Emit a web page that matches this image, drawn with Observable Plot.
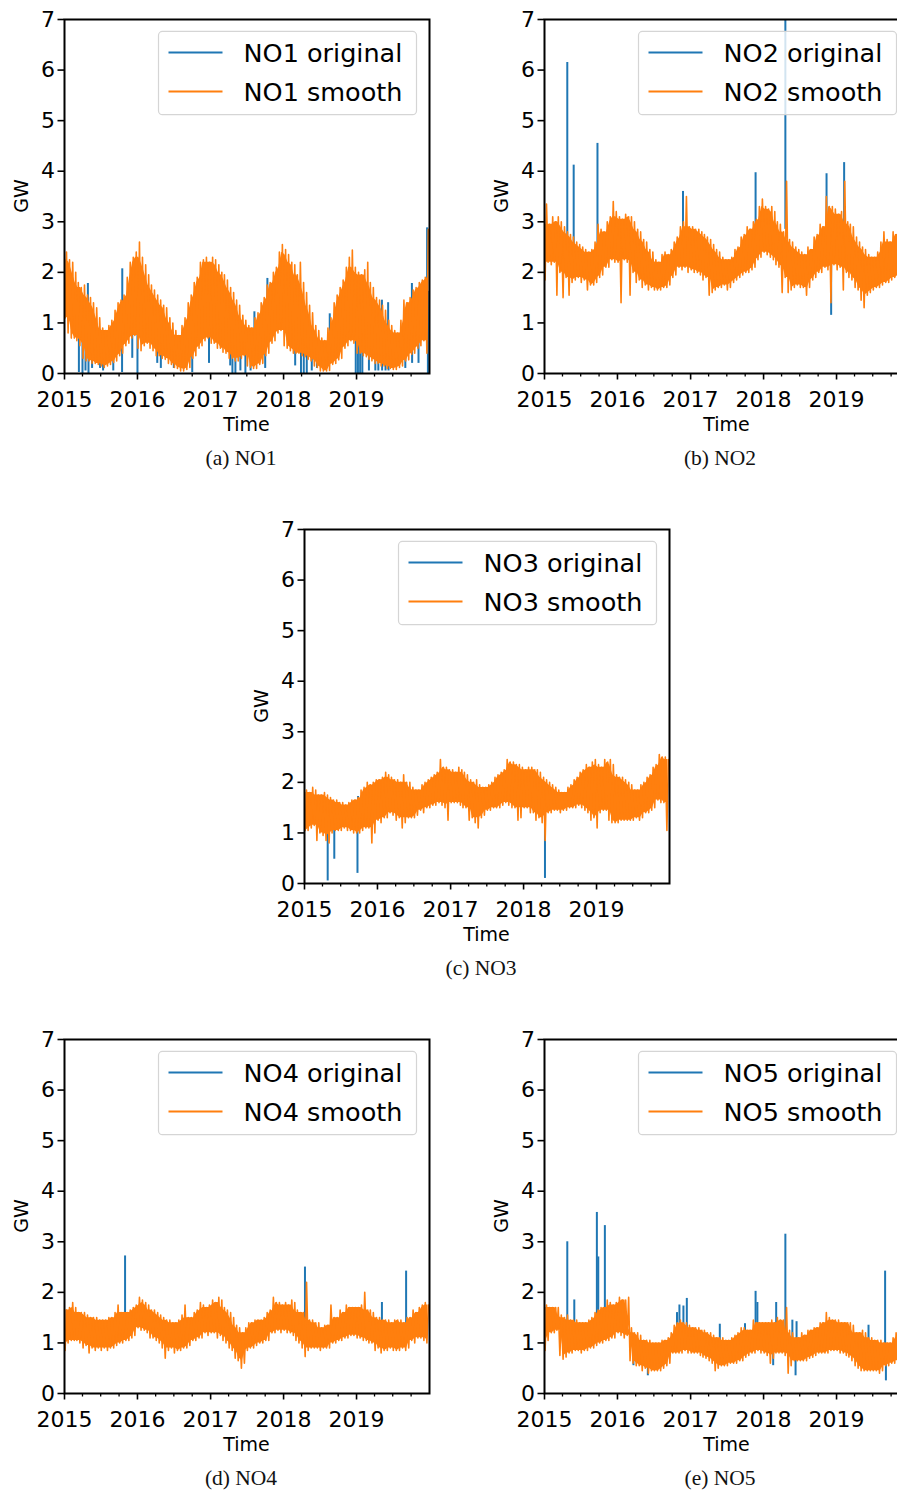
<!DOCTYPE html>
<html>
<head>
<meta charset="utf-8">
<script src="https://cdn.jsdelivr.net/npm/d3@7"></script>
<script src="https://cdn.jsdelivr.net/npm/@observablehq/plot@0.6"></script>
<style>
html, body { margin: 0; padding: 0; background: #fff; overflow: hidden; width: 897px; height: 1490px; }
#fig { position: relative; width: 897px; height: 1490px; overflow: hidden; }
.panel { position: absolute; }
.panel svg { max-width: none !important; display: block; }
.cap { position: absolute; font-family: "Liberation Serif", "DejaVu Serif", serif; font-size: 21.5px; line-height: 1; transform: translateX(-50%); white-space: nowrap; color: #111; }
</style>
</head>
<body>
<div id="fig"></div>
<script>
// ---------- DATA (semi-monthly envelope of the hourly series, Jan 2015 .. Dec 2019; 24 values per year) ----------
const areas = ["NO1", "NO2", "NO3", "NO4", "NO5"];
const captions = ["(a) NO1", "(b) NO2", "(c) NO3", "(d) NO4", "(e) NO5"];
const yTicks = [0, 1, 2, 3, 4, 5, 6, 7];
const yearTickLabels = [2015, 2016, 2017, 2018, 2019];

const NO1_hi = [
  2.4,2.25,2.2,2.0,1.8,1.7,1.75,1.55,1.5,1.4,1.3,1.1,0.9,0.85,0.95,1.05,1.25,1.4,1.45,1.55,1.9,2.2,2.3,2.4,
  2.6,2.3,2.15,1.95,1.75,1.65,1.55,1.45,1.35,1.3,1.1,1.0,0.85,0.75,0.95,1.1,1.4,1.55,1.8,1.9,2.2,2.25,2.3,2.2,
  2.3,2.25,2.15,2.0,1.95,1.85,1.7,1.6,1.45,1.35,1.15,1.05,0.95,0.9,1.1,1.2,1.4,1.5,1.75,1.8,2.0,2.1,2.4,2.55,
  2.45,2.35,2.2,2.15,1.95,2.2,1.8,1.6,1.35,1.2,0.95,0.85,0.7,0.65,0.9,1.1,1.4,1.55,1.7,1.85,2.1,2.3,2.44,2.1,
  2.0,1.95,2.05,2.2,1.8,1.7,1.5,1.45,1.35,1.25,1.05,0.95,0.85,0.8,1.05,1.45,1.4,1.5,1.65,1.7,1.8,1.85,1.9,2.85
];
const NO1_lo = [
  1.1,0.8,0.7,0.7,0.65,0.55,0.3,0.25,0.25,0.2,0.2,0.18,0.15,0.12,0.15,0.18,0.22,0.25,0.35,0.4,0.55,0.6,0.7,0.75,
  0.5,0.45,0.55,0.6,0.5,0.45,0.35,0.35,0.3,0.28,0.2,0.18,0.12,0.1,0.05,0.05,0.08,0.12,0.3,0.35,0.5,0.55,0.65,0.7,
  0.6,0.6,0.5,0.5,0.42,0.4,0.3,0.3,0.25,0.25,0.3,0.35,0.15,0.12,0.1,0.1,0.18,0.2,0.35,0.4,0.6,0.65,0.8,0.85,
  0.55,0.5,0.45,0.4,0.4,0.4,0.35,0.33,0.28,0.25,0.15,0.12,0.05,0.05,0.05,0.06,0.18,0.2,0.27,0.3,0.5,0.55,0.65,0.6,
  0.4,0.4,0.35,0.33,0.28,0.25,0.2,0.2,0.15,0.15,0.1,0.1,0.08,0.08,0.12,0.15,0.25,0.27,0.38,0.4,0.5,0.55,0.65,0.4
];
const NO1_spikes = [
  ["2015-04-28",1.78],["2015-10-17",2.07],["2017-08-08",1.22],["2017-10-12",1.88],["2018-08-20",1.18],
  ["2019-05-08",1.45],["2019-06-08",1.4],["2019-10-05",1.78],["2019-12-20",2.88],
  ["2015-03-14",0.02],["2015-04-01",0.0],["2015-04-16",0.05],["2015-05-01",0.0],["2015-05-19",0.1],
  ["2015-06-28",0.1],["2015-07-13",0.05],["2015-09-02",0.05],["2015-10-16",0.02],["2015-12-06",0.3],
  ["2016-01-01",0.0],["2016-04-09",0.2],["2016-04-27",0.1],["2016-07-01",0.1],["2016-10-01",0.02],
  ["2016-12-24",0.2],["2017-04-09",0.15],["2017-04-20",0.0],["2017-05-05",0.0],["2017-05-30",0.05],
  ["2017-06-24",0.0],["2017-07-20",0.05],["2017-10-01",0.1],["2018-02-28",0.15],["2018-03-29",0.0],
  ["2018-04-12",0.0],["2018-04-27",0.0],["2018-05-22",0.05],["2018-06-17",0.1],["2018-12-28",0.0],
  ["2019-01-08",0.0],["2019-01-19",0.0],["2019-01-30",0.0],["2019-03-04",0.05],["2019-04-05",0.05],
  ["2019-04-20",0.05],["2019-05-09",0.05],["2019-05-26",0.05],["2019-06-10",0.05],["2019-09-02",0.1],
  ["2019-10-06",0.2],["2019-11-07",0.2],["2019-12-24",0.0]
];

const NO2_hi = [
  3.35,2.95,3.1,3.0,3.1,3.0,2.9,2.8,2.75,2.7,2.6,2.55,2.5,2.45,2.4,2.45,2.6,2.95,2.85,2.8,3.0,3.1,3.4,3.2,
  3.1,3.05,3.15,3.1,3.1,3.0,2.85,2.8,2.65,2.6,2.45,2.4,2.25,2.2,2.35,2.4,2.35,2.45,2.6,2.7,2.9,3.0,3.5,2.9,
  2.9,2.85,2.85,2.8,2.75,2.7,2.65,2.55,2.45,2.4,2.3,2.25,2.25,2.3,2.45,2.5,2.7,2.75,2.9,2.85,3.0,3.05,3.3,3.45,
  3.3,3.25,3.3,3.2,3.0,2.95,2.8,3.8,2.65,2.6,2.5,2.45,2.4,2.35,2.5,2.45,2.7,2.75,2.95,2.9,3.5,3.3,3.3,3.25,
  3.15,3.2,3.8,3.0,2.95,2.9,2.7,2.6,2.5,2.45,2.35,2.3,2.3,2.4,2.6,2.8,2.65,2.6,2.8,2.75,2.8,2.85,2.9,2.9
];
const NO2_lo = [
  1.85,2.2,2.15,2.2,1.55,2.0,1.5,1.9,1.55,1.8,1.85,1.9,1.8,1.85,1.65,1.75,1.75,1.8,1.9,1.95,2.1,2.1,2.25,2.2,
  2.2,1.4,2.25,2.2,1.55,2.0,1.8,1.85,1.7,1.75,1.65,1.7,1.65,1.65,1.65,1.7,1.7,1.75,1.9,1.95,2.1,2.05,2.1,2.0,
  2.05,2.0,2.0,1.95,1.85,1.9,1.55,1.6,1.65,1.7,1.7,1.75,1.65,1.7,1.8,1.85,1.9,1.95,2.0,2.0,2.05,2.1,2.25,2.3,
  2.4,2.35,2.3,2.25,2.15,2.1,1.6,1.9,1.6,1.65,1.7,1.75,1.7,1.7,1.55,1.7,1.85,1.9,2.0,2.0,2.1,2.05,1.4,2.15,
  2.05,2.1,1.65,2.0,1.9,1.85,1.7,1.65,1.45,1.3,1.55,1.6,1.65,1.7,1.7,1.75,1.8,1.8,1.85,1.9,1.9,1.95,2.0,2.0
];
const NO2_spikes = [
  ["2015-04-25",6.15],["2015-05-27",4.12],["2015-09-23",4.55],["2016-11-24",3.6],["2017-11-22",3.97],
  ["2018-04-20",7.6],["2018-11-12",3.95],["2018-12-05",1.15],["2019-02-08",4.17]
];

const NO3_hi = [
  1.85,1.8,1.9,1.85,1.75,1.75,1.8,1.75,1.7,1.65,1.65,1.6,1.6,1.55,1.6,1.65,1.65,1.7,1.85,1.9,2.0,1.95,2.0,2.05,
  2.05,2.1,2.2,2.15,2.1,2.05,2.05,2.0,2.15,2.0,2.0,1.9,1.85,1.85,1.95,2.0,2.05,2.1,2.15,2.2,2.45,2.3,2.3,2.25,
  2.25,2.2,2.3,2.25,2.2,2.15,2.05,2.0,2.05,1.95,1.9,1.9,1.95,2.0,2.1,2.15,2.2,2.25,2.45,2.4,2.4,2.35,2.35,2.3,
  2.25,2.3,2.3,2.25,2.25,2.2,2.1,2.05,2.0,1.95,1.9,1.85,1.8,1.8,1.9,1.95,2.05,2.1,2.2,2.25,2.35,2.3,2.4,2.45,
  2.35,2.3,2.45,2.4,2.45,2.35,2.15,2.1,2.1,2.05,2.0,1.95,1.85,1.85,1.95,2.0,2.1,2.15,2.3,2.35,2.55,2.5,2.5,2.45
];
const NO3_lo = [
  1.05,1.05,1.1,1.15,0.85,1.0,0.95,0.85,0.8,1.0,1.05,1.05,1.05,1.1,1.05,1.05,1.0,1.0,1.0,1.05,1.1,1.1,0.8,1.0,
  1.25,1.2,1.3,1.3,1.4,1.35,1.25,1.3,1.1,1.2,1.3,1.3,1.3,1.35,1.45,1.4,1.5,1.5,1.55,1.55,1.6,1.55,1.5,1.25,
  1.6,1.6,1.6,1.55,1.5,1.5,1.25,1.3,1.2,1.1,1.3,1.35,1.45,1.45,1.5,1.5,1.5,1.55,1.6,1.55,1.5,1.5,1.25,1.3,
  1.5,1.5,1.4,1.4,1.25,1.3,1.2,0.85,1.4,1.4,1.45,1.45,1.4,1.45,1.45,1.5,1.5,1.5,1.55,1.5,1.45,1.4,1.25,1.3,
  1.1,1.4,1.45,1.45,1.25,1.2,1.2,1.2,1.25,1.25,1.25,1.25,1.25,1.3,1.25,1.3,1.4,1.4,1.45,1.5,1.65,1.6,1.6,1.05
];
const NO3_spikes = [
  ["2015-04-27",0.05],["2015-05-30",0.48],["2015-09-23",0.2],["2015-09-26",1.72],["2018-04-18",0.1]
];

const NO4_hi = [
  1.65,1.7,1.8,1.7,1.6,1.6,1.6,1.55,1.5,1.5,1.5,1.45,1.45,1.45,1.5,1.5,1.6,1.75,1.6,1.6,1.6,1.65,1.7,1.75,
  1.9,1.85,1.8,1.75,1.65,1.65,1.6,1.55,1.5,1.45,1.45,1.4,1.4,1.45,1.55,1.75,1.5,1.5,1.6,1.65,1.8,1.75,1.7,1.75,
  1.85,1.8,1.9,1.85,1.7,1.65,1.6,1.5,1.35,1.3,1.2,1.3,1.4,1.4,1.45,1.45,1.45,1.5,1.6,1.65,1.9,1.8,1.8,1.75,
  1.8,1.75,1.85,1.8,1.65,1.6,1.6,2.2,1.45,1.45,1.4,1.4,1.3,1.35,1.35,1.75,1.5,1.5,1.65,1.6,1.75,1.7,1.7,1.7,
  1.7,1.75,2.0,1.65,1.65,1.6,1.5,1.5,1.45,1.45,1.45,1.4,1.45,1.45,1.45,1.4,1.5,1.5,1.65,1.6,1.7,1.75,1.8,1.75
];
const NO4_lo = [
  0.85,1.0,1.05,1.05,1.05,1.0,0.9,0.95,0.8,0.9,0.85,0.9,0.85,0.9,0.85,0.9,0.9,0.95,1.0,1.0,1.05,1.05,1.1,1.15,
  1.3,1.25,1.25,1.2,1.1,1.1,1.05,1.0,0.9,0.7,0.85,0.9,0.8,0.85,0.85,0.9,0.9,0.95,1.05,1.05,1.1,1.1,1.2,1.15,
  1.2,1.2,1.1,1.15,1.05,1.0,0.9,0.85,0.7,0.65,0.5,0.6,0.85,0.9,0.9,0.95,1.0,1.0,1.05,1.05,1.2,1.2,1.25,1.2,
  1.25,1.2,1.2,1.15,1.05,1.0,0.9,0.73,0.85,0.9,0.9,0.9,0.85,0.9,0.9,0.9,1.0,1.0,1.05,1.05,1.1,1.1,1.15,1.15,
  1.1,1.1,1.05,1.05,1.0,1.0,0.85,0.9,0.8,0.85,0.85,0.9,0.85,0.85,0.85,0.9,0.85,0.9,1.05,1.0,1.1,1.1,1.05,1.0
];
const NO4_spikes = [
  ["2015-10-31",2.72],["2018-04-18",2.5],["2019-05-08",1.8],["2019-09-06",2.42]
];

const NO5_hi = [
  1.75,1.7,1.7,1.7,1.7,1.55,1.5,1.55,1.45,1.45,1.45,1.4,1.4,1.4,1.45,1.5,1.6,1.65,1.7,1.7,1.85,1.8,1.75,1.8,
  1.9,1.85,1.85,1.9,1.3,1.2,1.2,1.15,1.05,1.05,1.05,1.0,1.0,1.0,1.05,1.05,1.1,1.2,1.35,1.4,1.45,1.4,1.4,1.35,
  1.3,1.3,1.3,1.25,1.25,1.2,1.2,1.15,1.1,1.1,1.1,1.05,1.05,1.1,1.15,1.2,1.3,1.3,1.25,1.25,1.45,1.4,1.4,1.4,
  1.4,1.4,1.45,1.4,1.5,1.45,1.45,1.7,1.25,1.2,1.1,1.1,1.2,1.15,1.25,1.25,1.3,1.3,1.4,1.4,1.6,1.5,1.45,1.45,
  1.45,1.4,1.4,1.4,1.4,1.35,1.2,1.2,1.25,1.2,1.1,1.1,1.05,1.05,1.05,1.0,1.0,1.0,1.1,1.2,1.15,1.15,1.15,1.15
];
const NO5_lo = [
  0.85,1.05,1.2,1.2,1.25,0.75,0.68,0.72,0.8,0.8,0.85,0.85,0.8,0.85,0.85,0.9,0.9,0.95,1.0,1.0,1.05,1.05,1.1,1.1,
  1.2,1.15,1.1,1.15,0.65,0.6,0.55,0.55,0.45,0.5,0.4,0.45,0.45,0.45,0.45,0.5,0.55,0.6,0.8,0.8,0.8,0.8,0.85,0.8,
  0.8,0.8,0.8,0.75,0.72,0.7,0.65,0.6,0.45,0.5,0.55,0.55,0.55,0.6,0.6,0.6,0.65,0.65,0.72,0.75,0.8,0.8,0.85,0.8,
  0.8,0.75,0.6,0.7,0.8,0.8,0.8,0.75,0.4,0.55,0.65,0.65,0.65,0.65,0.65,0.7,0.72,0.75,0.8,0.8,0.8,0.8,0.85,0.85,
  0.85,0.8,0.8,0.75,0.72,0.65,0.55,0.5,0.45,0.45,0.45,0.45,0.45,0.45,0.4,0.45,0.55,0.55,0.6,0.6,0.65,0.65,0.65,0.65
];
const NO5_spikes = [
  ["2015-04-25",3.0],["2015-05-30",1.85],["2015-09-20",3.58],["2015-09-27",2.7],["2015-10-30",3.32],
  ["2016-03-21",0.55],["2016-06-01",0.35],["2016-10-25",1.6],["2016-11-06",1.75],["2016-11-26",1.73],
  ["2016-12-13",1.88],["2017-05-27",1.37],["2017-09-30",1.38],["2017-11-22",2.02],["2017-12-01",1.8],
  ["2018-02-18",0.55],["2018-03-05",1.8],["2018-04-20",3.15],["2018-05-25",1.45],["2018-06-10",0.35],
  ["2018-06-15",1.42],["2019-05-08",0.5],["2019-06-10",1.35],["2019-09-01",2.42],["2019-09-05",0.25]
];

const series = {
  NO1: {hi: NO1_hi, lo: NO1_lo, spikes: NO1_spikes},
  NO2: {hi: NO2_hi, lo: NO2_lo, spikes: NO2_spikes},
  NO3: {hi: NO3_hi, lo: NO3_lo, spikes: NO3_spikes},
  NO4: {hi: NO4_hi, lo: NO4_lo, spikes: NO4_spikes},
  NO5: {hi: NO5_hi, lo: NO5_lo, spikes: NO5_spikes}
};

// ---------- LAYOUT ----------
const C0 = "#1f77b4", C1 = "#ff7f0e";
const W = 365, H = 354, mL = 62, mR = 20, mT = 8, mB = 70;
const layout = {
  NO1: {left: 63.5, top: 19.3, cx: 241, cap: 448},
  NO2: {left: 544.3, top: 19.3, cx: 720, cap: 448},
  NO3: {left: 303.7, top: 529.3, cx: 481, cap: 958},
  NO4: {left: 63.5, top: 1039.3, cx: 241, cap: 1468},
  NO5: {left: 544.3, top: 1039.3, cx: 720, cap: 1468}
};

const start = new Date(Date.UTC(2015, 0, 1)), end = new Date(Date.UTC(2020, 0, 1));
const yearTicks = yearTickLabels.map(y => new Date(Date.UTC(y, 0, 1)));
const quarterTicks = [];
yearTickLabels.forEach(y => [3, 6, 9].forEach(m => quarterTicks.push(new Date(Date.UTC(y, m, 1)))));

function halfDate(i, day) {
  const m = Math.floor(i / 2), d0 = (i % 2) ? 16 : 1;
  return new Date(Date.UTC(2015 + Math.floor(m / 12), m % 12, d0 + day));
}
function halfIndex(t) {
  return (t.getUTCFullYear() - 2015) * 24 + t.getUTCMonth() * 2 + (t.getUTCDate() >= 16 ? 1 : 0);
}
// the hourly trace: alternate between each half-month's low and high
function zigzag(hi, lo) {
  const pts = [];
  hi.forEach((h, i) => {
    pts.push({t: halfDate(i, 3), v: lo[i]});
    pts.push({t: halfDate(i, 10), v: h});
  });
  return pts;
}
// dense core of the trace: the band that neighbouring half-months share
function core(hi, lo) {
  const n = hi.length;
  return hi.map((h, i) => ({
    t: halfDate(i, 7),
    y1: Math.max(lo[Math.max(0, i - 1)], lo[i], lo[Math.min(n - 1, i + 1)]),
    y2: Math.min(hi[Math.max(0, i - 1)], h, hi[Math.min(n - 1, i + 1)])
  }));
}

const fig = document.getElementById("fig");

areas.forEach((name, k) => {
  const {hi, lo, spikes} = series[name];
  const L = layout[name];
  const pts = zigzag(hi, lo);
  const band = core(hi, lo);
  const spk = spikes.map(([d, v]) => {
    const t = new Date(d); const i = halfIndex(t);
    return {t, v, base: (hi[i] + lo[i]) / 2};
  });

  const chart = Plot.plot({
    width: mL + W + mR, height: mT + H + mB,
    marginLeft: mL, marginRight: mR, marginTop: mT, marginBottom: mB,
    style: {fontFamily: "'DejaVu Sans', sans-serif", color: "#000", background: "transparent", overflow: "visible"},
    x: {type: "utc", domain: [start, end]},
    y: {domain: [0, 7]},
    marks: [
      Plot.ruleX(spk, {x: "t", y1: "base", y2: "v", stroke: C0, strokeWidth: 2, clip: true}),
      Plot.areaY(band, {x: "t", y1: "y1", y2: "y2", fill: C1, clip: true}),
      Plot.line(pts, {x: "t", y: "v", stroke: C1, strokeWidth: 1.6, clip: true}),
      Plot.axisX({ticks: quarterTicks, tickSize: 3.5, tickFormat: () => "", label: null, strokeWidth: 1.3}),
      Plot.axisX({ticks: yearTicks, tickSize: 6.5, tickPadding: 11, tickFormat: d3.utcFormat("%Y"), label: null, fontSize: 22, strokeWidth: 1.6}),
      Plot.axisY({ticks: yTicks, tickSize: 6.5, tickPadding: 3, tickFormat: d => String(d), label: null, fontSize: 22, strokeWidth: 1.6}),
      Plot.frame({stroke: "#000", strokeWidth: 2})
    ]
  });

  const g = d3.select(chart).append("g").attr("transform", `translate(${mL},${mT})`);
  // legend
  g.append("rect").attr("x", 94.5).attr("y", 12.4).attr("width", 258).attr("height", 83.3)
    .attr("rx", 4).attr("fill", "#fff").attr("fill-opacity", 0.8)
    .attr("stroke", "#d5d5d5").attr("stroke-width", 1.2);
  [[C0, `${name} original`, 33.4], [C1, `${name} smooth`, 72.4]].forEach(([c, label, y]) => {
    g.append("line").attr("x1", 104.5).attr("x2", 158.5).attr("y1", y).attr("y2", y)
      .attr("stroke", c).attr("stroke-width", 2);
    g.append("text").attr("x", 179.5).attr("y", y).attr("dy", "0.36em").attr("text-anchor", "start")
      .attr("font-size", 25.5).attr("fill", "#000").text(label);
  });
  // axis titles
  g.append("text").attr("transform", `translate(-43,${H / 2}) rotate(-90)`)
    .attr("text-anchor", "middle").attr("dy", "0.36em").attr("font-size", 19).attr("fill", "#000").text("GW");
  g.append("text").attr("x", W / 2).attr("y", H + 57.5).attr("text-anchor", "middle")
    .attr("font-size", 19).attr("fill", "#000").text("Time");

  const div = document.createElement("div");
  div.className = "panel";
  div.style.left = (L.left - mL) + "px";
  div.style.top = (L.top - mT) + "px";
  div.style.width = (mL + W + mR) + "px";
  div.appendChild(chart);
  fig.appendChild(div);

  const cap = document.createElement("div");
  cap.className = "cap";
  cap.style.left = L.cx + "px";
  cap.style.top = L.cap + "px";
  cap.textContent = captions[k];
  fig.appendChild(cap);
});
</script>
</body>
</html>
